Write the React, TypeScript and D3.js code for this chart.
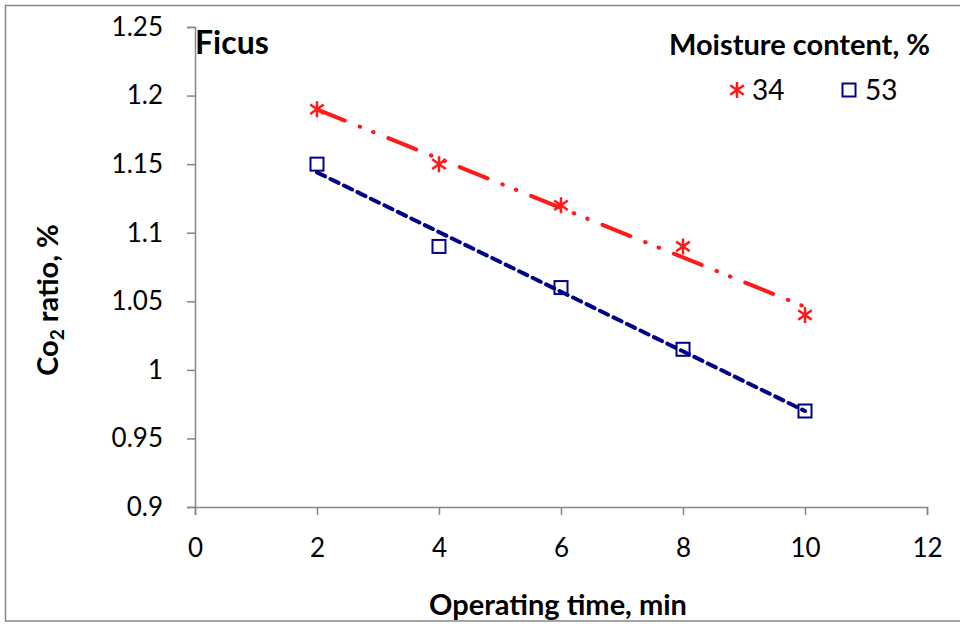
import React, { useRef, useEffect } from 'react';
import * as d3 from 'd3';

const times = [2, 4, 6, 8, 10];
const moisture34 = [1.19, 1.15, 1.12, 1.09, 1.04];
const moisture53 = [1.15, 1.09, 1.06, 1.015, 0.97];
const xTicks = [0, 2, 4, 6, 8, 10, 12];
const yTicks = [0.9, 0.95, 1, 1.05, 1.1, 1.15, 1.2, 1.25];

const FONT = 'Lato, "Open Sans", sans-serif';
const AXIS_GRAY = '#868686';

// least squares fit, like Excel's linear trendline
const fit = (xs: number[], ys: number[]) => {
  const mx = d3.mean(xs) as number;
  const my = d3.mean(ys) as number;
  let num = 0;
  let den = 0;
  xs.forEach((x, i) => {
    num += (x - mx) * (ys[i] - my);
    den += (x - mx) * (x - mx);
  });
  const slope = num / den;
  return (x: number) => my + slope * (x - mx);
};

const Chart = () => {
  const ref = useRef<SVGSVGElement>(null);

  useEffect(() => {
    if (!ref.current) return;
    const svg = d3.select(ref.current);
    svg.selectAll('*').remove();

    const width = 960;
    const height = 624;
    svg.attr('width', width).attr('height', height);

    // outer frame
    svg
      .append('rect')
      .attr('x', 5.5)
      .attr('y', 5.5)
      .attr('width', width)
      .attr('height', 615.5)
      .attr('fill', 'white')
      .attr('stroke', AXIS_GRAY)
      .attr('stroke-width', 1.5);

    const x = d3.scaleLinear().domain([0, 12]).range([195, 927]);
    const y = d3.scaleLinear().domain([0.9, 1.25]).range([507, 27]);

    // x axis
    const gx = svg
      .append('g')
      .attr('transform', `translate(0,${y(0.9)})`)
      .call(d3.axisBottom(x).tickValues(xTicks).tickSize(8).tickSizeOuter(8).tickPadding(24));
    gx.select('.domain').attr('stroke', AXIS_GRAY).attr('stroke-width', 1.5);
    gx.selectAll('.tick line').attr('stroke', AXIS_GRAY).attr('stroke-width', 1.5);
    gx.selectAll('.tick text')
      .attr('fill', 'black')
      .style('font-family', FONT)
      .style('font-size', '26px');

    // y axis
    const gy = svg
      .append('g')
      .attr('transform', `translate(${x(0)},0)`)
      .call(
        d3
          .axisLeft(y)
          .tickValues(yTicks)
          .tickFormat((d) => String(+(+d).toFixed(2)))
          .tickSize(8)
          .tickSizeOuter(8)
          .tickPadding(24)
      );
    gy.select('.domain').attr('stroke', AXIS_GRAY).attr('stroke-width', 1.5);
    gy.selectAll('.tick line').attr('stroke', AXIS_GRAY).attr('stroke-width', 1.5);
    gy.selectAll('.tick text')
      .attr('fill', 'black')
      .style('font-family', FONT)
      .style('font-size', '26px');

    // trendlines
    const series = [
      { values: moisture34, color: '#ff1a1a', dash: '30 16 0.5 14 0.5 16', width: 4 },
      { values: moisture53, color: '#00008b', dash: '9 6', width: 4 },
    ];
    series.forEach((s) => {
      const f = fit(times, s.values);
      const x0 = d3.min(times) as number;
      const x1 = d3.max(times) as number;
      svg
        .append('line')
        .attr('x1', x(x0))
        .attr('y1', y(f(x0)))
        .attr('x2', x(x1))
        .attr('y2', y(f(x1)))
        .attr('stroke', s.color)
        .attr('stroke-width', s.width)
        .attr('stroke-dasharray', s.dash)
        .attr('stroke-linecap', 'round');
    });

    const star = (g: d3.Selection<SVGGElement, unknown, null, undefined>, cx: number, cy: number) => {
      const r = 8;
      const p = `M${cx},${cy - r}L${cx},${cy + r}M${cx - r * 0.85},${cy - r * 0.6}L${cx + r * 0.85},${cy + r * 0.6}M${cx - r * 0.85},${cy + r * 0.6}L${cx + r * 0.85},${cy - r * 0.6}`;
      g.append('path').attr('d', p).attr('stroke', '#ff1a1a').attr('stroke-width', 2.5).attr('fill', 'none');
    };
    const square = (g: d3.Selection<SVGGElement, unknown, null, undefined>, cx: number, cy: number) => {
      g.append('rect')
        .attr('x', cx - 6.5)
        .attr('y', cy - 6.5)
        .attr('width', 13)
        .attr('height', 13)
        .attr('fill', 'none')
        .attr('stroke', '#00008b')
        .attr('stroke-width', 2);
    };

    const marks = svg.append('g');
    times.forEach((t, i) => star(marks, x(t), y(moisture34[i])));
    times.forEach((t, i) => square(marks, x(t), y(moisture53[i])));

    // texts
    svg
      .append('text')
      .text('Ficus')
      .attr('x', 195)
      .attr('y', 54)
      .attr('font-size', '32px')
      .attr('font-weight', 'bold')
      .style('font-family', FONT);

    svg
      .append('text')
      .text('Moisture content, %')
      .attr('x', 930)
      .attr('y', 55)
      .attr('text-anchor', 'end')
      .attr('font-size', '29px')
      .attr('font-weight', 'bold')
      .style('font-family', FONT);

    const legend = svg.append('g');
    star(legend, 737, 90);
    square(legend, 849, 90);
    legend
      .append('text')
      .text('34')
      .attr('x', 752)
      .attr('y', 100)
      .attr('font-size', '28px')
      .style('font-family', FONT);
    legend
      .append('text')
      .text('53')
      .attr('x', 865)
      .attr('y', 100)
      .attr('font-size', '28px')
      .style('font-family', FONT);

    svg
      .append('text')
      .text('Operating time, min')
      .attr('x', 558)
      .attr('y', 615)
      .attr('text-anchor', 'middle')
      .attr('font-size', '29px')
      .attr('font-weight', 'bold')
      .style('font-family', FONT);

    const yTitle = svg
      .append('text')
      .attr('transform', 'translate(58,300) rotate(-90)')
      .attr('text-anchor', 'middle')
      .attr('font-size', '29px')
      .attr('font-weight', 'bold')
      .style('font-family', FONT);
    yTitle.append('tspan').text('Co');
    yTitle.append('tspan').text('2').attr('font-size', '19px').attr('dy', 6);
    yTitle.append('tspan').text(' ratio, %').attr('dy', -6);
  }, []);

  return <svg ref={ref} style={{ position: 'absolute', left: 0, top: 0 }} />;
};

export default function App() {
  return <Chart />;
}
